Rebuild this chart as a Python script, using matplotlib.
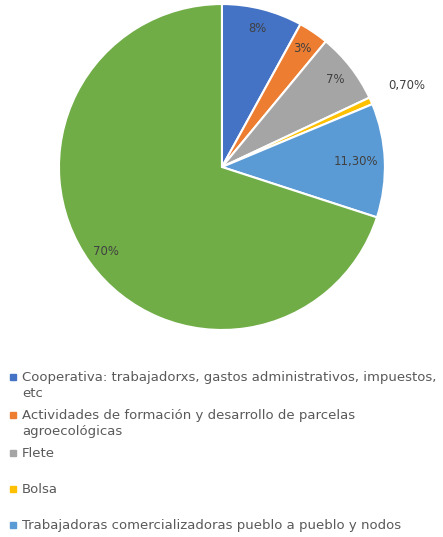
import matplotlib
matplotlib.use("Agg")
import matplotlib.pyplot as plt
import numpy as np
from matplotlib.patches import Rectangle

categories = [
    "Cooperativa: trabajadorxs, gastos administrativos, impuestos,\netc",
    "Actividades de formación y desarrollo de parcelas\nagroecológicas",
    "Flete",
    "Bolsa",
    "Trabajadoras comercializadoras pueblo a pueblo y nodos",
    "Productorxs",
]
values = [8, 3, 7, 0.7, 11.3, 70]
value_labels = ["8%", "3%", "7%", "0,70%", "11,30%", "70%"]
colors = ["#4472C4", "#ED7D31", "#A5A5A5", "#FFC000", "#5B9BD5", "#70AD47"]

plt.rcParams['font.family'] = ['DejaVu Sans']

W, H = 443, 537
fig = plt.figure(figsize=(W / 100, H / 100), dpi=100)
ax = fig.add_axes([0.133, 0.3855, 0.736, 0.607])
wedges, _ = ax.pie(values, colors=colors, startangle=90, counterclock=False,
                   wedgeprops=dict(edgecolor="white", linewidth=1.5))
ax.set_xlim(-1, 1)
ax.set_ylim(-1, 1)
ax.set_aspect('equal')

for w, lab in zip(wedges, value_labels):
    mid = np.deg2rad((w.theta1 + w.theta2) / 2)
    if lab == "0,70%":
        r = 1.24
    elif lab == "11,30%":
        r = 0.82
    else:
        r = 0.88
    ax.text(r * np.cos(mid), r * np.sin(mid), lab, ha='center', va='center',
            fontsize=8.4, color='#404040')

# legend (first five entries visible)
tops = [377, 415, 453, 489, 525]
for i, top in enumerate(tops):
    fy = 1 - top / H
    fig.patches.append(Rectangle((10 / W, fy - 3 / H), 6 / W, 6 / H,
                                 transform=fig.transFigure, color=colors[i]))
    fig.text(22 / W, fy + 6 / H, categories[i], ha='left', va='top',
             fontsize=9.5, color='#595959', linespacing=1.3)

fig.savefig("out.png", dpi=100)
